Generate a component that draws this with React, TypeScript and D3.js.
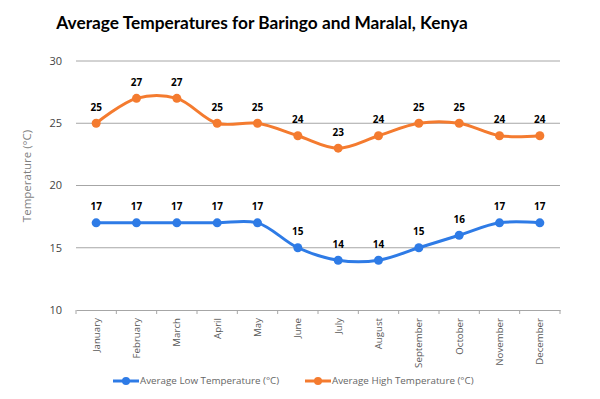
import { useEffect, useRef } from 'react';
import * as d3 from 'd3';

const months = ['January', 'February', 'March', 'April', 'May', 'June', 'July', 'August', 'September', 'October', 'November', 'December'];
const lowTemps = [17, 17, 17, 17, 17, 15, 14, 14, 15, 16, 17, 17];
const highTemps = [25, 27, 27, 25, 25, 24, 23, 24, 25, 25, 24, 24];
const yTicks = [10, 15, 20, 25, 30];

const BLUE = '#2e7be6';
const ORANGE = '#f47b2f';
const FONT = '"Open Sans", "DejaVu Sans", sans-serif';

export default function App() {
  const svgRef = useRef<SVGSVGElement>(null);

  useEffect(() => {
    if (!svgRef.current) return;
    document.body.style.margin = '0';
    const svg = d3.select(svgRef.current);
    svg.selectAll('*').remove();

    const width = 600;
    const height = 399;
    const margin = { top: 61, right: 40, bottom: 89, left: 76 };
    const innerW = width - margin.left - margin.right;
    const innerH = height - margin.top - margin.bottom;

    svg.append('rect').attr('width', width).attr('height', height).attr('fill', '#fff');

    // Title
    svg.append('text')
      .attr('x', 262)
      .attr('y', 29)
      .attr('text-anchor', 'middle')
      .style('font-family', 'Lato, "Open Sans", sans-serif')
      .style('font-size', '17.3px')
      .style('font-weight', 700)
      .style('fill', '#000')
      .text('Average Temperatures for Baringo and Maralal, Kenya');

    const g = svg.append('g').attr('transform', `translate(${margin.left},${margin.top})`);

    const x = d3.scaleBand().domain(months).range([0, innerW]);
    const y = d3.scaleLinear().domain([10, 30]).range([innerH, 0]);
    const cx = (m: string) => (x(m) || 0) + x.bandwidth() / 2;

    // Grid lines
    g.append('g')
      .selectAll('line')
      .data(yTicks.filter(t => t !== 10))
      .join('line')
      .attr('x1', 0)
      .attr('x2', innerW)
      .attr('y1', d => y(d))
      .attr('y2', d => y(d))
      .attr('stroke', '#a6a6a6')
      .attr('stroke-width', 1);

    // Y axis labels
    g.append('g')
      .selectAll('text')
      .data(yTicks)
      .join('text')
      .attr('x', -14)
      .attr('y', d => y(d))
      .attr('dy', '0.35em')
      .attr('text-anchor', 'end')
      .style('font-family', FONT)
      .style('font-size', '11px')
      .style('fill', '#444')
      .text(d => d);

    // X axis
    const xAxis = g.append('g')
      .attr('transform', `translate(0,${innerH})`)
      .call(d3.axisBottom(x).tickSize(0).tickFormat(() => ''));
    xAxis.select('.domain').attr('stroke', '#a6a6a6');
    xAxis.selectAll('.tick').remove();

    // tick marks at band boundaries
    g.append('g')
      .selectAll('line')
      .data(d3.range(months.length + 1))
      .join('line')
      .attr('x1', i => i * x.bandwidth())
      .attr('x2', i => i * x.bandwidth())
      .attr('y1', innerH)
      .attr('y2', innerH + 4)
      .attr('stroke', '#a6a6a6');

    g.append('g')
      .selectAll('text')
      .data(months)
      .join('text')
      .attr('transform', d => `translate(${cx(d)},${innerH + 8}) rotate(-90)`)
      .attr('dy', '0.35em')
      .attr('text-anchor', 'end')
      .style('font-family', FONT)
      .style('font-size', '9.7px')
      .style('fill', '#595959')
      .text(d => d);

    // Y axis title
    svg.append('text')
      .attr('transform', `translate(31,${176}) rotate(-90)`)
      .attr('text-anchor', 'middle')
      .style('font-family', FONT)
      .style('font-size', '11.5px')
      .style('fill', '#7f7f7f')
      .text('Temperature (°C)');

    const line = d3.line<number>()
      .x((_, i) => cx(months[i]))
      .y(d => y(d))
      .curve(d3.curveCatmullRom.alpha(0.5));

    const series = [
      { values: highTemps, color: ORANGE },
      { values: lowTemps, color: BLUE },
    ];

    series.forEach(s => {
      g.append('path')
        .datum(s.values)
        .attr('fill', 'none')
        .attr('stroke', s.color)
        .attr('stroke-width', 3)
        .attr('d', line);

      g.append('g')
        .selectAll('circle')
        .data(s.values)
        .join('circle')
        .attr('cx', (_, i) => cx(months[i]))
        .attr('cy', d => y(d))
        .attr('r', 4.5)
        .attr('fill', s.color);

      g.append('g')
        .selectAll('text')
        .data(s.values)
        .join('text')
        .attr('x', (_, i) => cx(months[i]))
        .attr('y', d => y(d) - 12.5)
        .attr('text-anchor', 'middle')
        .style('font-family', FONT)
        .style('font-size', '10px')
        .style('font-weight', 700)
        .style('fill', '#000')
        .text(d => d);
    });

    // Legend
    const legendItems = [
      { label: 'Average Low Temperature (°C)', color: BLUE, x: 113 },
      { label: 'Average High Temperature (°C)', color: ORANGE, x: 305 },
    ];
    const legend = svg.append('g').attr('transform', 'translate(0,381)');
    legendItems.forEach(item => {
      legend.append('line')
        .attr('x1', item.x)
        .attr('x2', item.x + 26)
        .attr('y1', 0)
        .attr('y2', 0)
        .attr('stroke', item.color)
        .attr('stroke-width', 3);
      legend.append('circle')
        .attr('cx', item.x + 13)
        .attr('cy', 0)
        .attr('r', 4)
        .attr('fill', item.color);
      legend.append('text')
        .attr('x', item.x + 27)
        .attr('y', 0)
        .attr('dy', '0.35em')
        .style('font-family', FONT)
        .style('font-size', '9.8px')
        .style('fill', '#666')
        .text(item.label);
    });
  }, []);

  return (
    <div style={{ width: 600, height: 399 }}>
      <svg ref={svgRef} width={600} height={399} style={{ display: 'block' }} />
    </div>
  );
}
